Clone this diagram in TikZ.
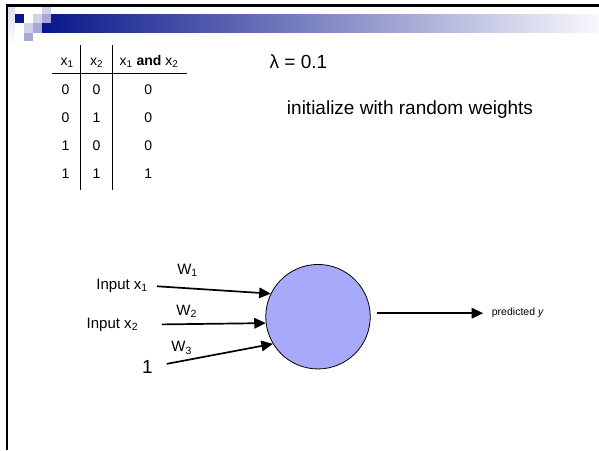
\documentclass[tikz,border=0pt]{standalone}
\usepackage{fontspec}
\setmainfont{Liberation Sans}
\usetikzlibrary{arrows.meta}

\definecolor{barnavy}{RGB}{8,22,138}
\definecolor{barend}{RGB}{248,248,252}
\definecolor{tilelight}{RGB}{208,210,234}
\definecolor{tilemid}{RGB}{166,168,216}
\definecolor{tilepale}{RGB}{222,222,238}
\definecolor{cellblue}{RGB}{167,170,250}

\tikzset{
  tabcell/.style={font=\fontsize{14}{16}\selectfont, anchor=base, inner sep=0pt},
  bigtext/.style={font=\fontsize{19}{22}\selectfont, anchor=base, inner sep=0pt},
  inlabel/.style={font=\fontsize{15}{18}\selectfont, anchor=base east, inner sep=0pt},
  wlabel/.style={font=\fontsize{15}{18}\selectfont, anchor=base, inner sep=0pt},
  wire/.style={line width=1.7pt, -{Triangle[length=11.5pt,width=10.5pt]}},
}

\begin{document}
\begin{tikzpicture}[x=1pt, y=-1pt]
      \useasboundingbox (0,0) rectangle (599,450);
      %
      \shade[top color=tilepale, bottom color=white] (8,7) rectangle (15,45); % slide header
      \shade[left color=barnavy, right color=barend] (42,14) rectangle (599,32.5);
      \fill[tilelight] (42,6) rectangle (51,14);
      \fill[barnavy] (15,14) rectangle (24,23.3);
      \fill[tilelight] (33,14) rectangle (42,23.3);
      \fill[tilemid] (42,14) rectangle (51,23.3);
      \fill[tilelight] (24,23.3) rectangle (33,32.5);
      \fill[tilemid] (33,23.3) rectangle (42,32.5);
      \fill[tilemid] (24,32.5) rectangle (33,41);
      \draw[line width=2.3pt] (6.8,450) -- (6.8,5.6) -- (599,5.6);
      %
      \draw[line width=0.9pt] (52,73.5) -- (187,73.5);     % rule
      \draw[line width=0.9pt] (80.7,45) -- (80.7,190);     % cols
      \draw[line width=0.9pt] (112.3,45) -- (112.3,190);
      %
      \draw(67,65) node[tabcell](hx1){x\textsubscript{1}};             % header
      \draw(96.5,65) node[tabcell](hx2){x\textsubscript{2}};
      \draw(149,65) node[tabcell](hand){x\textsubscript{1} \textbf{and} x\textsubscript{2}};
      %
      \draw(65.5,94.5) node[tabcell](a1){0};            % first row
      \draw(96.5,94.5) node[tabcell](b1){0};
      \draw(148.3,94.5) node[tabcell](c1){0};
      %%
      \draw(65.5,122.5) node[tabcell](a2){0};           % second row
      \draw(96.5,122.5) node[tabcell](b2){1};
      \draw(148.3,122.5) node[tabcell](c2){0};
      %%
      \draw(65.5,150) node[tabcell](a3){1};             % third row
      \draw(96.5,150) node[tabcell](b3){0};
      \draw(148.3,150) node[tabcell](c3){0};
      %%
      \draw(65.5,178) node[tabcell](a4){1};             % fourth row
      \draw(96.5,178) node[tabcell](b4){1};
      \draw(148.3,178) node[tabcell](c4){1};
      %
      \draw(298.5,68.3) node[bigtext](lambda){λ = 0.1};
      \draw(410,114.3) node[bigtext](init){initialize with random weights};
      %
      \node[circle, draw, fill=cellblue, line width=0.8pt, minimum size=104.5pt,
            inner sep=0pt] (neuron) at (318,316.7) {};   % unit
      %
      \draw(148,289.3) node[inlabel](in1){Input x\textsubscript{1}};   % inputs
      \draw(138.3,328.3) node[inlabel](in2){Input x\textsubscript{2}};
      \draw(147.5,373) node[bigtext](one){1};
      %
      \draw(187.5,274) node[wlabel](w1){W\textsubscript{1}};           % weights
      \draw(186.7,315) node[wlabel](w2){W\textsubscript{2}};
      \draw(181.7,351.7) node[wlabel](w3){W\textsubscript{3}};
      %
      \node[font=\fontsize{10.5}{12}\selectfont, anchor=west, inner sep=0pt]
            (pred) at (491.7,313.2) {predicted \textit{y}};
      %
      \draw[wire, shorten <=9pt] (in1.east) -- (neuron.154);
      \draw[wire, shorten <=23.5pt] (in2.east) -- (neuron.187);
      \draw[wire, shorten <=14pt] (one.east) -- (neuron.211);
      \draw[wire, shorten >=8.5pt] ([xshift=6pt, yshift=3.5pt]neuron.east) -- (pred.west);
      %
    \end{tikzpicture}
\end{document}
